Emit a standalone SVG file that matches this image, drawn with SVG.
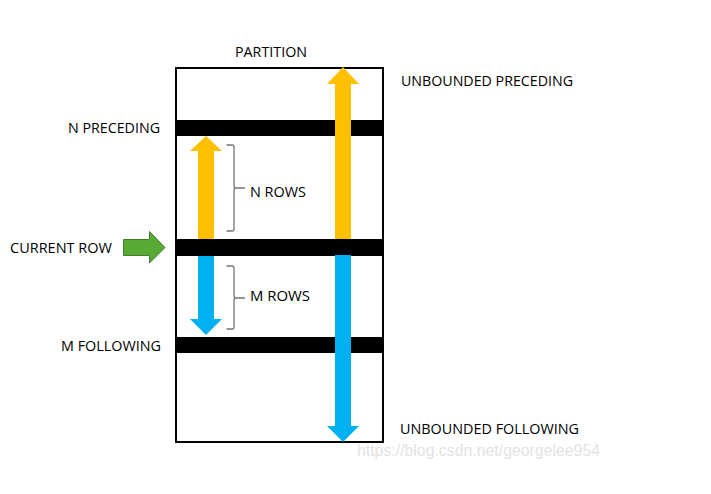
<svg xmlns="http://www.w3.org/2000/svg" width="711" height="494" viewBox="0 0 711 494">
<style>
.t{font-family:"Open Sans","Noto Sans",sans-serif;font-size:14px;fill:#000}
.bar{fill:#000}
.up{fill:#FFC000}
.down{fill:#00B0F0}
.brace{fill:none;stroke:#767676;stroke-width:1.3}
.wm{font-family:"Liberation Sans",Arial,sans-serif;font-size:16px;fill:#e3e3e3}
</style>
<rect width="711" height="494" fill="#fff"/>
<g id="partition">
<rect x="176" y="68" width="207" height="374" fill="none" stroke="#000" stroke-width="2"/>
<text class="t" x="235" y="56.5" textLength="72" lengthAdjust="spacingAndGlyphs">PARTITION</text>
</g>
<g id="n-preceding">
<rect class="bar" x="176" y="120" width="207" height="16"/>
<text class="t" x="68" y="132.5" textLength="92" lengthAdjust="spacingAndGlyphs">N PRECEDING</text>
</g>
<g id="current-row">
<rect class="bar" x="176" y="239" width="207" height="17"/>
<text class="t" x="10" y="252.5" textLength="102" lengthAdjust="spacingAndGlyphs">CURRENT ROW</text>
</g>
<g id="m-following">
<rect class="bar" x="176" y="337" width="207" height="16"/>
<text class="t" x="61" y="350.5" textLength="100" lengthAdjust="spacingAndGlyphs">M FOLLOWING</text>
</g>
<g id="unbounded-preceding">
<text class="t" x="401" y="86" textLength="172" lengthAdjust="spacingAndGlyphs">UNBOUNDED PRECEDING</text>
</g>
<g id="unbounded-following">
<text class="t" x="400" y="434" textLength="179" lengthAdjust="spacingAndGlyphs">UNBOUNDED FOLLOWING</text>
</g>
<g id="n-rows">
<path class="brace" d="M226.5,145 H232 Q234,145 234,147 V185.5 Q234,188 236,188 H245 M236,188 Q234,188 234,190.5 V229 Q234,231 232,231 H226.5"/>
<text class="t" x="250" y="196.5" textLength="56" lengthAdjust="spacingAndGlyphs">N ROWS</text>
</g>
<g id="m-rows">
<path class="brace" d="M226.5,266 H232 Q234,266 234,268 V295.5 Q234,298 236,298 H245 M236,298 Q234,298 234,300.5 V327 Q234,329 232,329 H226.5"/>
<text class="t" x="250" y="301" textLength="60" lengthAdjust="spacingAndGlyphs">M ROWS</text>
</g>
<g id="connectors">
<polygon class="up" points="198,239 198,151 190,151 206,136 222,151 214,151 214,239"/>
<polygon class="up" points="335,239 335,84 327,84 343,67 359,84 351,84 351,239"/>
<polygon class="down" points="198,256 198,319 190,319 206,335 222,319 214,319 214,256"/>
<polygon class="down" points="335,255 335,426 327,426 343,442 359,426 351,426 351,255"/>
<polygon points="123.5,239.5 149.5,239.5 149.5,231.5 165,247.5 149.5,263 149.5,255.5 123.5,255.5" fill="#58AA35" stroke="#427F27" stroke-width="1"/>
</g>
<text class="wm" x="357" y="456" textLength="243" lengthAdjust="spacingAndGlyphs">https://blog.csdn.net/georgelee954</text>
</svg>
